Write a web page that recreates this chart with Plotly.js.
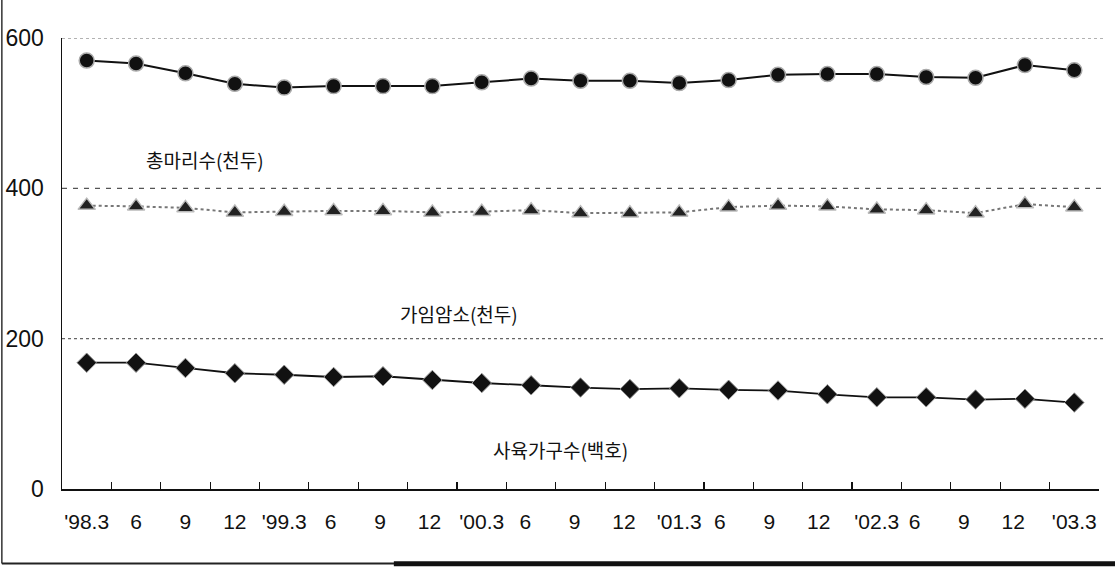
<!DOCTYPE html>
<html>
<head>
<meta charset="utf-8">
<script src="https://cdn.plot.ly/plotly-3.0.1.min.js"></script>
<style>
  html, body { margin: 0; padding: 0; background: #fff; }
  #chart { width: 1115px; height: 568px; }
</style>
</head>
<body>
<div id="chart"></div>
<script>
// ---- data ----
const categories = ["'98.3", "6", "9", "12", "'99.3", "6 ", "9 ", "12 ", "'00.3", "6  ", "9  ", "12  ",
                    "'01.3", "6   ", "9   ", "12   ", "'02.3", "6    ", "9    ", "12    ", "'03.3"];
const totalHead = [570, 566, 553, 539, 534, 536, 536, 536, 541, 546, 543, 543, 540, 544, 551, 552, 552, 548, 547, 564, 557];
const fertileCows = [377, 376, 374, 368, 369, 370, 370, 368, 369, 371, 367, 367, 368, 375, 377, 376, 372, 371, 367, 379, 375];
const farmHouseholds = [168, 168, 161, 154, 152, 149, 150, 145, 141, 138, 135, 133, 134, 132, 131, 126, 122, 122, 119, 120, 115];
const seriesNames = ["총마리수(천두)", "가임암소(천두)", "사육가구수(백호)"];
const yTicks = [0, 200, 400, 600];

const traces = [
  {
    x: categories, y: totalHead, name: seriesNames[0], type: 'scatter', mode: 'lines+markers',
    line: { color: '#111', width: 2 },
    marker: { symbol: 'circle', size: 15, color: '#111', line: { color: '#aaa', width: 1.5 } }
  },
  {
    x: categories, y: fertileCows, name: seriesNames[1], type: 'scatter', mode: 'lines+markers',
    line: { color: '#777', width: 2, dash: 'dot' },
    marker: { symbol: 'triangle-up', size: 15, color: '#222', line: { color: '#bbb', width: 1.5 } }
  },
  {
    x: categories, y: farmHouseholds, name: seriesNames[2], type: 'scatter', mode: 'lines+markers',
    line: { color: '#111', width: 1.8 },
    marker: { symbol: 'diamond', size: 15, color: '#111', line: { color: '#999', width: 1 } }
  }
];

const fontLatin = 'Liberation Sans Narrow, Liberation Sans, Arial, sans-serif';
const fontKo = 'Noto Sans CJK KR, sans-serif';

const gridShapes = yTicks.filter(v => v > 0).map(v => ({
  type: 'line', xref: 'paper', yref: 'y', x0: 0, x1: 1.006, y0: v, y1: v, layer: 'below',
  line: { color: v === 400 ? '#555' : '#666', width: 1.2, dash: v === 400 ? '5px,6px' : 'dot' }
}));

const layout = {
  width: 1115, height: 568,
  margin: { l: 62, r: 16, t: 38, b: 79 },
  paper_bgcolor: '#fff', plot_bgcolor: '#fff',
  showlegend: false,
  font: { family: fontLatin, color: '#111' },
  xaxis: {
    type: 'category',
    range: [-0.5, categories.length - 0.5],
    tickson: 'boundaries',
    ticks: 'inside', ticklen: 7, tickcolor: '#111', tickwidth: 1.2,
    showline: true, linecolor: '#111', linewidth: 1.5,
    showgrid: false, zeroline: false,
    tickfont: { size: 21, family: fontLatin, color: '#111' },
    ticklabelstandoff: 13,
    tickangle: 0
  },
  yaxis: {
    range: [0, 600],
    tickvals: yTicks,
    ticktext: yTicks.map(String),
    ticks: '', showline: true, linecolor: '#111', linewidth: 1.5,
    showgrid: false, zeroline: false,
    tickfont: { size: 23, family: fontLatin, color: '#111' },
    ticklabelstandoff: 12
  },
  shapes: gridShapes.concat([
    { type: 'line', xref: 'paper', yref: 'paper', x0: -0.058, x1: -0.058, y0: -0.165, y1: 1.09,
      line: { color: '#333', width: 1.5 } },
    { type: 'line', xref: 'paper', yref: 'paper', x0: -0.058, x1: 1.02, y0: -0.165, y1: -0.165,
      line: { color: '#222', width: 2 } },
    { type: 'line', xref: 'paper', yref: 'paper', x0: 0.32, x1: 1.02, y0: -0.166, y1: -0.166,
      line: { color: '#111', width: 5 } }
  ]),
  annotations: [
    { xref: 'x', yref: 'y', x: 2.39, y: 439, text: seriesNames[0], showarrow: false,
      font: { family: fontKo, size: 19, color: '#111' } },
    { xref: 'x', yref: 'y', x: 7.53, y: 234, text: seriesNames[1], showarrow: false,
      font: { family: fontKo, size: 19, color: '#111' } },
    { xref: 'x', yref: 'y', x: 9.6, y: 52, text: seriesNames[2], showarrow: false,
      font: { family: fontKo, size: 19, color: '#111' } }
  ]
};

Plotly.newPlot('chart', traces, layout, { displayModeBar: false, staticPlot: true });
</script>
</body>
</html>
